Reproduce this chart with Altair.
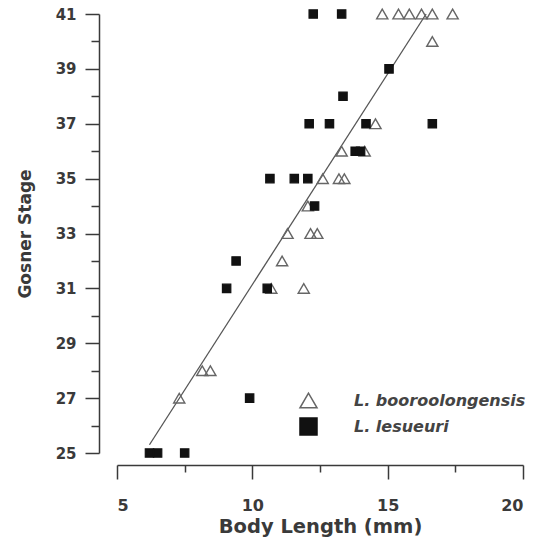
import altair as alt
import pandas as pd

# Body length (mm) and Gosner stage for each tadpole
boor_length = [14.8, 15.4, 15.8, 16.25, 16.65, 17.4, 16.65, 14.55, 13.3, 14.15,
               12.6, 13.2, 13.4, 12.05, 11.3, 12.15, 12.4, 11.1, 10.7, 11.9,
               8.15, 8.45, 7.3]
boor_stage = [41, 41, 41, 41, 41, 41, 40, 37, 36, 36,
              35, 35, 35, 34, 33, 33, 33, 32, 31, 31,
              28, 28, 27]

les_length = [12.25, 13.3, 15.05, 13.35, 12.1, 12.85, 14.2, 16.65, 13.8, 14.0,
              10.65, 11.55, 12.05, 12.3, 9.4, 9.05, 10.55, 9.9, 6.2, 6.5, 7.5]
les_stage = [41, 41, 39, 38, 37, 37, 37, 37, 36, 36,
             35, 35, 35, 34, 32, 31, 31, 27, 25, 25, 25]

species = ["L. booroolongensis", "L. lesueuri"]

# Fitted line through all points (end points)
fit_length = [6.2, 16.42]
fit_stage = [25.3, 41.0]

y_major = [25, 27, 29, 31, 33, 35, 37, 39, 41]
y_minor = [26, 28, 30, 32, 34, 36, 38, 40]
x_major = [5, 10, 15, 20]
x_minor = [7.5, 12.5, 17.5]

boor = pd.DataFrame({"length": boor_length, "stage": boor_stage,
                     "species": species[0]})
les = pd.DataFrame({"length": les_length, "stage": les_stage,
                    "species": species[1]})
fit = pd.DataFrame({"length": fit_length, "stage": fit_stage})

FONT = "DejaVu Sans"
INK = "#3a3a3a"

xscale = alt.Scale(domain=[5, 20], nice=False, zero=False)
yscale = alt.Scale(domain=[25, 41], nice=False, zero=False)

major_x = alt.Axis(values=x_major, orient="bottom", format="d", tickSize=14,
                   tickWidth=1.5, domainWidth=1.5, domainColor=INK, tickColor=INK,
                   labelFont=FONT, labelFontWeight="bold", labelFontSize=16,
                   labelColor=INK, labelPadding=18, offset=12, grid=False,
                   title="Body Length (mm)", titleFont=FONT, titleFontSize=19.5,
                   titleFontWeight="bold", titleColor=INK, titlePadding=4)
major_y = alt.Axis(values=y_major, orient="left", format="d", tickSize=14,
                   tickWidth=1.5, domainWidth=1.5, domainColor=INK, tickColor=INK,
                   labelFont=FONT, labelFontWeight="bold", labelFontSize=15,
                   labelColor=INK, labelPadding=9, offset=18, grid=False,
                   title="Gosner Stage", titleFont=FONT, titleFontSize=17,
                   titleFontWeight="bold", titleColor=INK, titlePadding=21)

minor_x = alt.Axis(values=x_minor, orient="bottom", tickSize=7, tickWidth=1.5,
                   tickColor=INK, labels=False, domain=False, offset=12,
                   grid=False, title=None)
minor_y = alt.Axis(values=y_minor, orient="left", tickSize=8, tickWidth=1.5,
                   tickColor=INK, labels=False, domain=False, offset=18,
                   grid=False, title=None)

legend = alt.Legend(
    title=None, orient="none", legendX=182, legendY=377,
    symbolSize=290, symbolStrokeWidth=1.5, padding=0,
    labelFont=FONT, labelFontSize=16, labelFontStyle="italic",
    labelFontWeight="bold", labelColor="#444", labelLimit=400,
    labelOffset=36, rowPadding=3)

species_enc = dict(
    shape=alt.Shape("species:N",
                    scale=alt.Scale(domain=species, range=["triangle-up", "square"]),
                    legend=legend),
    fill=alt.Fill("species:N",
                  scale=alt.Scale(domain=species, range=["transparent", "#111111"])),
    stroke=alt.Stroke("species:N",
                      scale=alt.Scale(domain=species, range=["#666666", "#111111"])),
)

tri = alt.Chart(boor).mark_point(size=125, strokeWidth=1.4, opacity=1).encode(
    x=alt.X("length:Q", scale=xscale, axis=major_x),
    y=alt.Y("stage:Q", scale=yscale, axis=major_y),
    **species_enc,
)

sq = alt.Chart(les).mark_point(size=70, strokeWidth=1.2, opacity=1).encode(
    x=alt.X("length:Q", scale=xscale, axis=None),
    y=alt.Y("stage:Q", scale=yscale, axis=None),
    **species_enc,
)

line = alt.Chart(fit).mark_line(color="#555555", strokeWidth=1.3).encode(
    x=alt.X("length:Q", scale=xscale, axis=minor_x),
    y=alt.Y("stage:Q", scale=yscale, axis=minor_y),
)

chart = alt.layer(line, tri, sq).resolve_axis(
    x="independent", y="independent"
).properties(
    width=406, height=439,
    autosize=alt.AutoSizeParams(type="none"),
    padding={"left": 117, "top": 14, "right": 19, "bottom": 84},
    background="white",
).configure_view(stroke=None)

chart.save("out.html", embed_options={"renderer": "svg", "actions": False})
